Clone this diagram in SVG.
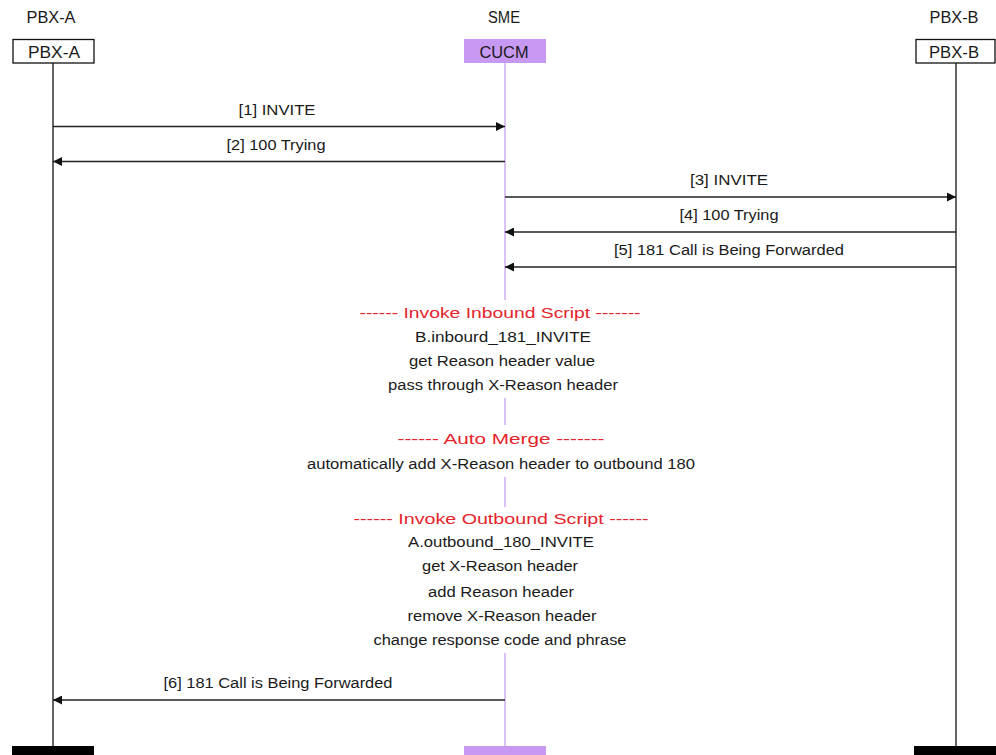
<svg xmlns="http://www.w3.org/2000/svg" width="996" height="755" viewBox="0 0 996 755">
<defs>
<marker id="ah" viewBox="0 0 10 10" refX="10" refY="5" markerWidth="10" markerHeight="9" markerUnits="userSpaceOnUse" orient="auto">
<path d="M0,0 L10,5 L0,10 Z" fill="#111"/>
</marker>
<style>
text{font-family:"Liberation Sans",Arial,sans-serif;font-size:14px;fill:#1a1a1a;text-anchor:middle}
.hd{font-size:16px}
.red{fill:#e3242b}
.box{fill:#fff;stroke:#111;stroke-width:1.3}
.life{stroke:#111;stroke-width:1.3}
.lifep{stroke:#c6a2ee;stroke-width:1.3}
.msg{stroke:#222;stroke-width:1.5;fill:none;marker-end:url(#ah)}
</style>
</defs>
<rect width="996" height="755" fill="#fff"/>
<g id="lifelines">
<line class="life" x1="53" y1="63" x2="53" y2="746"/>
<line class="lifep" x1="505" y1="63" x2="505" y2="746"/>
<line class="life" x1="956" y1="63" x2="956" y2="746"/>
</g>
<g id="pbx-a">
<text class="hd" x="51" y="23" textLength="49" lengthAdjust="spacingAndGlyphs">PBX-A</text>
<rect class="box" x="13" y="39.5" width="81" height="23.5"/>
<text class="hd" x="54" y="58" textLength="52" lengthAdjust="spacingAndGlyphs">PBX-A</text>
<rect x="12" y="746" width="82" height="9" fill="#000"/>
</g>
<g id="sme">
<text class="hd" x="504" y="23" textLength="32" lengthAdjust="spacingAndGlyphs">SME</text>
<rect x="464" y="39" width="82" height="24" fill="#c899f2"/>
<text class="hd" x="504" y="58" textLength="49" lengthAdjust="spacingAndGlyphs">CUCM</text>
<rect x="464" y="746" width="82" height="9" fill="#c899f2"/>
</g>
<g id="pbx-b">
<text class="hd" x="954" y="23" textLength="49" lengthAdjust="spacingAndGlyphs">PBX-B</text>
<rect class="box" x="916" y="39.5" width="79" height="23.5"/>
<text class="hd" x="954" y="58" textLength="50" lengthAdjust="spacingAndGlyphs">PBX-B</text>
<rect x="914" y="746" width="82" height="9" fill="#000"/>
</g>
<g id="connectors">
<line class="msg" x1="53" y1="126.5" x2="505" y2="126.5"/>
<line class="msg" x1="505" y1="161.5" x2="53" y2="161.5"/>
<line class="msg" x1="505" y1="197" x2="956" y2="197"/>
<line class="msg" x1="956" y1="232" x2="505" y2="232"/>
<line class="msg" x1="956" y1="267" x2="505" y2="267"/>
<line class="msg" x1="505" y1="700" x2="53" y2="700"/>
</g>
<g id="labels">
<text x="277" y="115" textLength="77" lengthAdjust="spacingAndGlyphs">[1] INVITE</text>
<text x="276" y="150" textLength="99" lengthAdjust="spacingAndGlyphs">[2] 100 Trying</text>
<text x="729" y="185" textLength="78" lengthAdjust="spacingAndGlyphs">[3] INVITE</text>
<text x="729" y="220" textLength="99" lengthAdjust="spacingAndGlyphs">[4] 100 Trying</text>
<text x="729" y="255" textLength="230" lengthAdjust="spacingAndGlyphs">[5] 181 Call is Being Forwarded</text>
<text x="278" y="688" textLength="229" lengthAdjust="spacingAndGlyphs">[6] 181 Call is Being Forwarded</text>
</g>
<g id="inbound-script">
<rect x="355" y="300" width="290" height="98" fill="#fff"/>
<text class="red" x="500" y="318" textLength="281" lengthAdjust="spacingAndGlyphs">------ Invoke Inbound Script -------</text>
<text x="503" y="342" textLength="176" lengthAdjust="spacingAndGlyphs">B.inbourd_181_INVITE</text>
<text x="502" y="366" textLength="186" lengthAdjust="spacingAndGlyphs">get Reason header value</text>
<text x="503" y="390" textLength="230" lengthAdjust="spacingAndGlyphs">pass through X-Reason header</text>
</g>
<g id="auto-merge">
<rect x="300" y="425" width="400" height="52" fill="#fff"/>
<text class="red" x="501" y="444" textLength="207" lengthAdjust="spacingAndGlyphs">------ Auto Merge -------</text>
<text x="501" y="469" textLength="388" lengthAdjust="spacingAndGlyphs">automatically add X-Reason header to outbound 180</text>
</g>
<g id="outbound-script">
<rect x="350" y="507" width="300" height="146" fill="#fff"/>
<text class="red" x="501" y="524" textLength="295" lengthAdjust="spacingAndGlyphs">------ Invoke Outbound Script ------</text>
<text x="501" y="547" textLength="186" lengthAdjust="spacingAndGlyphs">A.outbound_180_INVITE</text>
<text x="500" y="571" textLength="156" lengthAdjust="spacingAndGlyphs">get X-Reason header</text>
<text x="501" y="597" textLength="146" lengthAdjust="spacingAndGlyphs">add Reason header</text>
<text x="502" y="621" textLength="189" lengthAdjust="spacingAndGlyphs">remove X-Reason header</text>
<text x="500" y="645" textLength="253" lengthAdjust="spacingAndGlyphs">change response code and phrase</text>
</g>
</svg>
